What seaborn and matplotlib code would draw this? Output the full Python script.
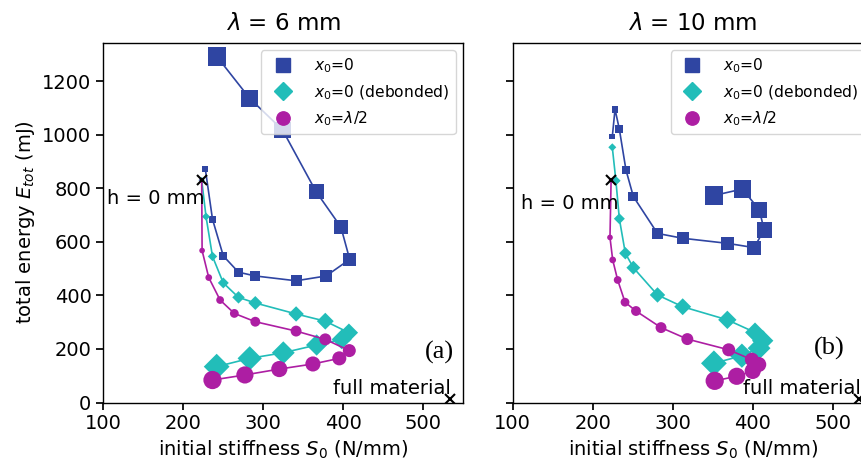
import numpy as np
import pandas as pd
import matplotlib
matplotlib.use("Agg")
import matplotlib.pyplot as plt
import seaborn as sns
from matplotlib.lines import Line2D

# ---------------- data ----------------
titles = ["$\\lambda$ = 6 mm", "$\\lambda$ = 10 mm"]
panel_tags = ["(a)", "(b)"]
series_labels = ["$x_0$=0", "$x_0$=0 (debonded)", "$x_0$=$\\lambda$/2"]

# lambda = 6 mm
l6_blue_S = [227.5, 236.5, 250, 269, 290, 341, 378.5, 408, 397, 366, 324, 283, 242]
l6_blue_E = [873, 685, 548, 487, 473, 455, 473, 535, 656, 788, 1019, 1137, 1293]
l6_cyan_S = [223, 228.4, 236.5, 250, 269, 290, 341, 377.5, 407, 398, 366.7, 325, 283, 241.7]
l6_cyan_E = [831, 695, 546, 447, 393, 372, 331, 304, 261, 236, 215, 186, 165, 134]
l6_mag_S = [223, 223.5, 231.8, 246, 263.8, 290, 341, 377.5, 407.5, 395, 362, 320, 277, 236.5]
l6_mag_E = [831, 568, 467, 383, 333, 302, 267, 236, 194, 165, 144, 125, 103, 84]

# lambda = 10 mm
l10_blue_S = [224.5, 227.9, 233.3, 241.6, 250.8, 281, 312.4, 368.4, 401.7, 414.3, 408.2, 387, 351.8]
l10_blue_E = [994, 1096, 1022, 869, 770, 632, 614, 595, 579, 645, 721, 798, 774]
l10_cyan_S = [224.5, 229, 233.3, 240.8, 250.8, 281, 312.5, 368.3, 402.9, 412.5, 408, 386.5, 351.5]
l10_cyan_E = [954, 829, 687, 558, 504, 402, 358, 309, 262, 231, 203, 175, 146.5]
l10_mag_S = [223, 221.6, 225, 231.2, 240.4, 254.1, 285.4, 318.3, 370, 399, 407.5, 400, 380, 352.5]
l10_mag_E = [831, 617, 533, 458, 375, 342, 280, 237, 197, 160, 142, 118, 98, 81]

h0_point = (223, 831)        # "h = 0 mm"
full_point = (533, 12)       # "full material"

x_ticks = [100, 200, 300, 400, 500]
y_ticks = [0, 200, 400, 600, 800, 1000, 1200]

# ---------------- style ----------------
sns.set_theme(style="ticks")
plt.rcParams.update({
    "font.family": ["DejaVu Sans"],
    "axes.edgecolor": "black",
    "axes.linewidth": 1.0,
    "xtick.color": "black",
    "ytick.color": "black",
    "xtick.labelsize": 14,
    "ytick.labelsize": 14,
    "axes.labelsize": 14,
    "xtick.major.size": 5,
    "ytick.major.size": 5,
    "text.color": "black",
    "axes.labelcolor": "black",
    "mathtext.fontset": "dejavusans",
})

colors = ["#2f45a2", "#22bdb9", "#ad1ea3"]
markers = ["s", "D", "o"]
N_LEVELS = 14
size_map = {i: ((4.6 + 1.05 * i) * 0.72) ** 2 for i in range(N_LEVELS)}

fig = plt.figure(figsize=(8.61, 4.63), dpi=100)
W, H = 861, 463
axL = fig.add_axes([103.3 / W, 1 - 402.5 / H, 360 / W, 359.8 / H])
axR = fig.add_axes([512.7 / W, 1 - 402.5 / H, 360 / W, 359.8 / H], sharey=axL)

panels = [
    (axL, [(l6_blue_S, l6_blue_E), (l6_cyan_S, l6_cyan_E), (l6_mag_S, l6_mag_E)]),
    (axR, [(l10_blue_S, l10_blue_E), (l10_cyan_S, l10_cyan_E), (l10_mag_S, l10_mag_E)]),
]
tag_pos = [(0.934, 0.140), (0.880, 0.149)]
h0_offsets = [(2, -6), (5, -10)]

for p, (ax, series) in enumerate(panels):
    for k, (S, E) in enumerate(series):
        n = len(S)
        df = pd.DataFrame({"S": S, "E": E,
                           "idx": list(range(N_LEVELS - n, N_LEVELS)),
                           "order": range(n)})
        sns.lineplot(data=df, x="S", y="E", sort=False, estimator=None,
                     color=colors[k], lw=1.2, ax=ax, zorder=2 + 2 * k)
        sns.scatterplot(data=df, x="S", y="E", size="idx", sizes=size_map,
                        marker=markers[k], color=colors[k], linewidth=0,
                        legend=False, ax=ax, zorder=3 + 2 * k)
    # annotation markers
    ax.plot([h0_point[0]], [h0_point[1]], marker="x", color="black",
            ms=6.5, mew=1.5, ls="none", zorder=20)
    ax.plot([full_point[0]], [full_point[1]], marker="x", color="black",
            ms=6.5, mew=1.5, ls="none", zorder=20)
    ax.annotate("h = 0 mm", xy=h0_point, xytext=h0_offsets[p],
                textcoords="offset points", ha="right", va="top",
                fontsize=14, zorder=21)
    ax.annotate("full material", xy=full_point, xytext=(1, 1),
                textcoords="offset points", ha="right", va="bottom",
                fontsize=14, zorder=21)
    ax.text(tag_pos[p][0], tag_pos[p][1], panel_tags[p], transform=ax.transAxes,
            ha="center", va="center", fontsize=19,
            family=["Liberation Serif", "DejaVu Serif"])

    ax.set_xlim(100, 550)
    ax.set_ylim(0, 1345)
    ax.set_xticks(x_ticks)
    ax.set_yticks(y_ticks)
    ax.set_xlabel("initial stiffness $S_0$ (N/mm)")
    ax.set_title(titles[p], fontsize=16.5, pad=9)
    for sp in ax.spines.values():
        sp.set_visible(True)
        sp.set_color("black")

    handles = [Line2D([], [], marker=markers[k], color=colors[k], ls="none",
                      markersize=9.6 if markers[k] != "D" else 9.0)
               for k in range(3)]
    ax.legend(handles, series_labels, loc="upper right", fontsize=11.2,
              handletextpad=1.0)

axL.set_ylabel("total energy $E_{tot}$ (mJ)")
axR.set_ylabel("")
axR.tick_params(labelleft=False)

fig.savefig("out.png", dpi=100)
